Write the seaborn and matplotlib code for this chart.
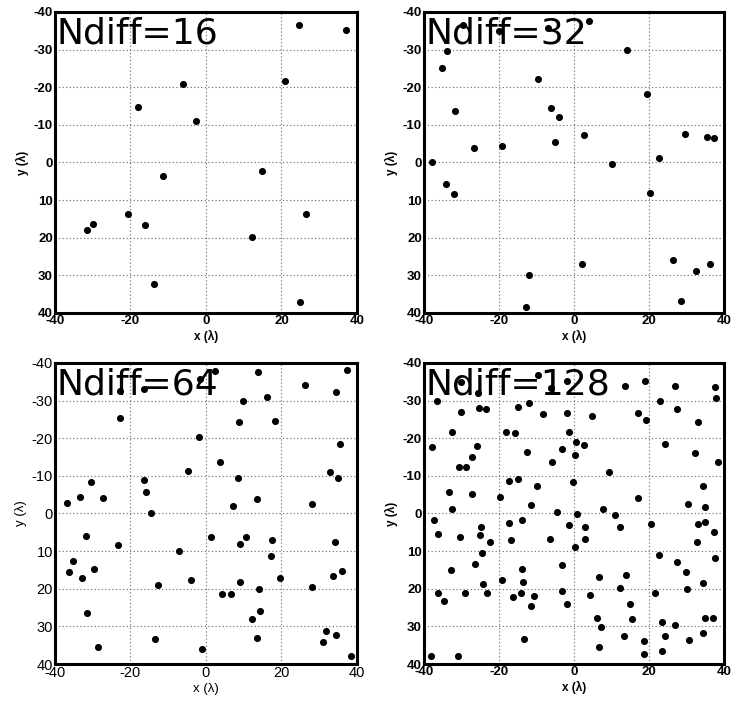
import matplotlib
matplotlib.use('Agg')
import matplotlib.pyplot as plt
import seaborn as sns
import pandas as pd

# point positions (x, y in wavelengths)
x16 = [24.7, 37.0, -6.1, 20.9, -17.9, -2.5, -11.4, 14.9, -20.7, -29.9, -31.6, -16.2, 26.6, 12.1, -13.8, 24.9]
y16 = [-36.6, -35.3, -20.8, -21.6, -14.7, -11.1, 3.6, 2.3, 13.7, 16.3, 18.0, 16.5, 13.6, 19.7, 32.3, 37.1]

x32 = [-37.8, -34.0, -31.9, -35.2, -33.9, -31.6, -26.7, -19.3, -9.5, -6.0, -4.0, -4.9, 2.8, 14.3,
       19.6, 10.1, 22.6, 20.4, 29.6, 35.5, 37.5, 2.2, -12.0, -12.8, 26.4, 32.6, 36.4, 28.5,
       -29.5, -6.9, 4.1, -20.0]
y32 = [0.0, 5.8, 8.3, -25.2, -29.5, -13.7, -3.9, -4.3, -22.1, -14.5, -12.0, -5.4, -7.4, -29.9,
       -18.2, 0.5, -1.1, 8.0, -7.7, -6.8, -6.5, 27.1, 29.8, 38.3, 25.8, 28.8, 26.9, 36.8,
       -36.5, -35.7, -37.7, -35.0]

x64 = [-36.8, -33.3, -30.5, -27.3, -31.9, -35.3, -36.4, -32.9, -29.7, -31.4, -28.7, -23.2, -22.9,
       -22.9, -16.3, -16.3, -16.0, -14.5, -12.8, -13.5, -7.1, -4.8, -4.0, -1.8, -1.0, 1.4,
       3.6, 4.2, 6.6, 7.3, 8.6, 8.7, 9.8, 9.1, 10.7, 9.0, 13.8, 13.5, 16.3, 18.2,
       17.6, 17.3, 19.7, 14.1, 14.4, 12.3, 13.5, 26.2, 37.3, 34.6, 35.4, 32.9, 35.1, 28.0,
       34.3, 33.6, 36.1, 28.0, 31.7, 34.5, 31.1, 38.4, -1.5, 2.3]
y64 = [-2.8, -4.4, -8.5, -4.2, 5.9, 12.6, 15.6, 17.2, 14.7, 26.4, 35.6, 8.4, -25.3,
       -32.5, -33.2, -8.9, -5.6, -0.2, 19.0, 33.4, 10.0, -11.3, 17.6, -20.2, 35.9, 6.2,
       -13.6, 21.4, 21.5, -2.1, -9.4, -24.2, -29.9, 8.0, 6.2, 18.2, -37.6, -3.9, -30.9, -24.7,
       7.0, 11.4, 17.1, 20.0, 25.8, 28.0, 33.1, -34.2, -38.2, -32.2, -18.6, -10.9, -9.5, -2.4,
       7.5, 16.6, 15.4, 19.5, 31.2, 32.4, 34.2, 38.0, -35.8, -38.0]

x128 = [-9.5, -1.7, -25.5, -36.6, -11.9, -30.1, -25.3, -23.5, -15.0, -8.2, -1.8, -32.5, -18.1,
        -15.7, -1.3, 0.5, -37.8, -25.9, -12.6, -3.2, 0.3, -27.3, -30.7, -28.9, -5.8, -17.3,
        -15.0, -9.7, -0.2, -33.3, -27.1, -19.7, -11.5, -32.6, -4.6,
        13.6, 18.9, 27.1, 37.8, 38.0, 23.1, 27.5, 33.2, 4.8, 17.1, 19.3, 2.7, 24.4, 32.4,
        38.6, 9.3, 34.6, 17.2, 30.5, 35.1, 7.9, 0.9, 11.1,
        -37.2, -17.2, -13.8, -24.7, -1.3, -36.2, -30.5, -25.1, -22.5, -16.8, -6.4, 0.3, -24.4,
        -32.7, -26.3, -13.9, -3.2, -19.3, -13.5, -24.2, -36.2, -29.1, -23.2, -34.7, -16.3, -14.2,
        -10.7, -11.5, -3.2, -1.9, -13.4, -38.0, -30.9,
        3.1, 12.3, 20.6, 33.1, 34.9, 37.5, 3.1, 32.9, 22.8, 37.7, 27.5, 29.9, 6.6, 13.9,
        34.6, 12.3, 30.1, 21.6, 4.3, 15.0, 6.2, 15.5, 34.9, 37.1, 7.3, 23.5, 27.0, 13.3,
        24.4, 34.5, 30.8, 6.8, 18.8, 18.6, 23.5,
        -6.2, -30.0]
y128 = [-36.8, -35.2, -31.9, -29.9, -29.3, -26.9, -28.0, -27.8, -28.2, -26.4, -26.8, -21.7, -21.6,
        -21.3, -21.6, -19.1, -17.6, -17.9, -16.4, -17.2, -15.6, -15.1, -12.4, -12.4, -13.8, -8.7,
        -9.2, -7.4, -8.3, -5.8, -5.3, -4.4, -2.3, -1.2, -0.3,
        -33.9, -35.2, -34.0, -33.7, -30.8, -29.8, -27.7, -24.2, -25.9, -26.6, -24.8, -18.1, -18.6, -16.1,
        -13.8, -11.1, -7.4, -4.2, -2.5, -1.6, -1.2, 0.1, 0.3,
        1.7, 2.6, 1.7, 3.6, 3.0, 5.4, 6.3, 5.7, 7.5, 7.1, 6.9, 8.9, 10.4,
        15.1, 13.4, 14.8, 13.7, 17.6, 18.2, 18.7, 21.1, 21.0, 21.1, 23.2, 22.1, 21.2,
        22.0, 24.7, 20.5, 24.1, 33.4, 38.0, 38.0,
        3.7, 3.6, 2.9, 2.9, 2.3, 5.0, 6.9, 7.5, 10.9, 11.9, 12.9, 15.5, 16.9, 16.4,
        18.4, 19.8, 20.1, 21.2, 21.7, 24.1, 27.8, 28.0, 27.7, 27.7, 30.1, 28.8, 29.5, 32.5,
        32.5, 31.8, 33.6, 35.6, 33.8, 37.3, 36.5,
        -33.3, -35.0]

panels = [
    ("Ndiff=16", x16, y16, True),
    ("Ndiff=32", x32, y32, True),
    ("Ndiff=64", x64, y64, False),
    ("Ndiff=128", x128, y128, True),
]
xticks = [-40, -20, 0, 20, 40]
yticks = [-40, -30, -20, -10, 0, 10, 20, 30, 40]

sns.set_style("white")
plt.rcParams['font.family'] = ['Liberation Sans', 'DejaVu Sans']
plt.rcParams['axes.unicode_minus'] = False
plt.rcParams['text.color'] = 'black'
plt.rcParams['axes.labelcolor'] = 'black'
plt.rcParams['xtick.color'] = 'black'
plt.rcParams['ytick.color'] = 'black'

fig = plt.figure(figsize=(7.31, 7.04), dpi=100)
positions = [
    [0.0752, 0.5554, 0.413, 0.4276],
    [0.580, 0.5554, 0.410, 0.4276],
    [0.0752, 0.0568, 0.413, 0.4276],
    [0.580, 0.0568, 0.410, 0.4276],
]

for pos, (title, xs, ys, bold) in zip(positions, panels):
    ax = fig.add_axes(pos)
    df = pd.DataFrame({'x': xs, 'y': ys})
    sns.scatterplot(data=df, x='x', y='y', ax=ax, color='black', s=26, linewidth=0, zorder=3)
    ax.set_xlim(-40, 40)
    ax.set_ylim(40, -40)
    ax.set_xticks(xticks)
    ax.set_yticks(yticks)
    weight = 'heavy' if bold else 'normal'
    fs = 9.5 if bold else 10.5
    ax.set_xticklabels([str(t) for t in xticks])
    ax.set_yticklabels([str(t) for t in yticks])
    plt.setp(ax.get_xticklabels() + ax.get_yticklabels(), fontsize=fs, fontweight=weight,
             color='black')
    ax.tick_params(direction='in', length=3, width=0.8, pad=1.5, colors='black')
    ax.grid(True, linestyle=(0, (1, 2.2)), color='0.4', linewidth=0.8, zorder=1)
    ax.set_axisbelow(True)
    for sp in ax.spines.values():
        sp.set_linewidth(2.2)
        sp.set_color('black')
        sp.set_visible(True)
    ax.set_xlabel('x (λ)', fontsize=fs - 1, fontweight=weight, labelpad=2, color='black')
    ax.set_ylabel('y (λ)', fontsize=fs - 1, fontweight=weight, labelpad=3, color='black')
    ax.text(0.005, 0.985, title, transform=ax.transAxes, ha='left', va='top',
            fontsize=26, family='DejaVu Sans', color='black', zorder=5)

fig.savefig('out.png', dpi=100)
